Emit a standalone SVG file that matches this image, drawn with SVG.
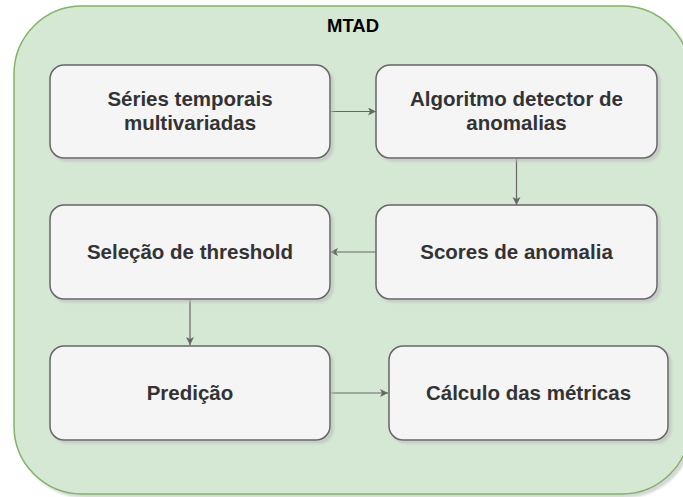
<svg xmlns="http://www.w3.org/2000/svg" width="683" height="497" viewBox="0 0 683 497">
<defs>
<filter id="sh" x="-10%" y="-10%" width="130%" height="130%">
<feOffset in="SourceAlpha" dx="3" dy="3" result="o"/>
<feGaussianBlur in="o" stdDeviation="1" result="b"/>
<feColorMatrix in="b" type="matrix" values="0 0 0 0 0.5  0 0 0 0 0.5  0 0 0 0 0.5  0 0 0 0.6 0" result="c"/>
<feMerge><feMergeNode in="c"/><feMergeNode in="SourceGraphic"/></feMerge>
</filter>
<marker id="arr" markerWidth="10" markerHeight="10" refX="8" refY="4" orient="auto" markerUnits="userSpaceOnUse">
<path d="M0,0 L8,4 L0,8 L2,4 Z" fill="#666666"/>
</marker>
</defs>
<style>
.box{fill:#f5f5f5;stroke:#666666;stroke-width:1.5;filter:url(#sh)}
.lbl{font-family:"Liberation Sans",Arial,Helvetica,sans-serif;font-weight:bold;font-size:20.5px;fill:#333333;text-anchor:middle}
.edge{stroke:#666666;stroke-width:1.2;fill:none;marker-end:url(#arr)}
</style>
<g id="container">
<rect x="14" y="6" width="676" height="488" rx="68" ry="68" fill="#d5e8d4" stroke="#82b366" stroke-width="1.5" filter="url(#sh)"/>
<text x="353" y="32" font-family="'Liberation Sans',Arial,Helvetica,sans-serif" font-weight="bold" font-size="18.5" fill="#000000" text-anchor="middle">MTAD</text>
</g>
<g id="connectors">
<path class="edge" d="M330,111.5 L376,111.5"/>
<path class="edge" d="M516.5,158 L516.5,205"/>
<path class="edge" d="M376,252 L330,252"/>
<path class="edge" d="M190,299 L190,345"/>
<path class="edge" d="M330,393 L388,393"/>
</g>
<g id="n1">
<rect class="box" x="50" y="65" width="280" height="93" rx="14" ry="14"/>
<text class="lbl" x="190" y="106">Séries temporais</text>
<text class="lbl" x="190" y="130">multivariadas</text>
</g>
<g id="n2">
<rect class="box" x="376" y="65" width="281" height="93" rx="14" ry="14"/>
<text class="lbl" x="516.5" y="106">Algoritmo detector de</text>
<text class="lbl" x="516.5" y="130">anomalias</text>
</g>
<g id="n3">
<rect class="box" x="376" y="205" width="281" height="94" rx="14" ry="14"/>
<text class="lbl" x="516.5" y="259">Scores de anomalia</text>
</g>
<g id="n4">
<rect class="box" x="50" y="205" width="280" height="94" rx="14" ry="14"/>
<text class="lbl" x="190" y="259">Seleção de threshold</text>
</g>
<g id="n5">
<rect class="box" x="50" y="346" width="280" height="94" rx="14" ry="14"/>
<text class="lbl" x="190" y="400">Predição</text>
</g>
<g id="n6">
<rect class="box" x="389" y="346" width="279" height="94" rx="14" ry="14"/>
<text class="lbl" x="528.5" y="400">Cálculo das métricas</text>
</g>
</svg>
